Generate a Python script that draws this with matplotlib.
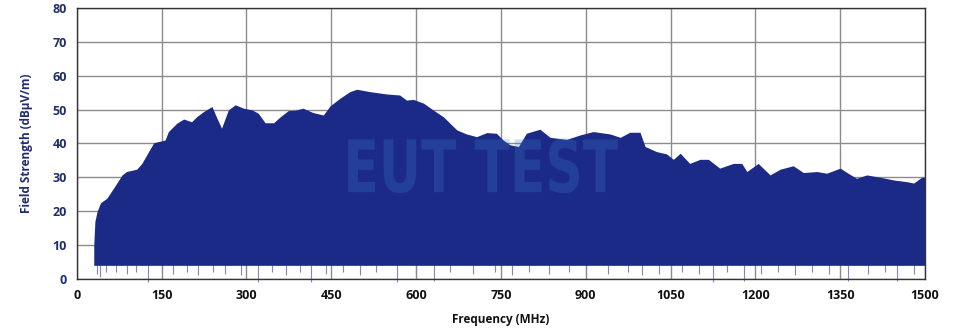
import numpy as np
import matplotlib
matplotlib.use("Agg")
from matplotlib import pyplot as plt
from matplotlib.textpath import TextPath
from matplotlib.patches import PathPatch
from matplotlib.font_manager import FontProperties
from matplotlib.transforms import Affine2D

plt.rcParams['font.family'] = ['Open Sans', 'DejaVu Sans']

# upper envelope of the sweep (MHz, dBuV/m)
freq_hi = [30, 32, 36, 42, 53, 65, 80, 88, 106, 115, 127, 136, 156, 162, 177,
           189, 203, 212, 224, 239, 248, 256, 268, 280, 295, 310, 321, 333,
           348, 360, 374, 386, 400, 418, 436, 448, 465, 483, 495, 518, 548,
           571, 583, 595, 613, 630, 648, 672, 689, 707, 725, 742, 754, 766,
           781, 795, 819, 837, 866, 890, 913, 943, 961, 978, 996, 1005, 1025,
           1043, 1055, 1067, 1084, 1102, 1117, 1137, 1161, 1176, 1185, 1205,
           1226, 1244, 1267, 1285, 1309, 1326, 1350, 1364, 1379, 1397, 1421,
           1445, 1468, 1480, 1494, 1500]
level_hi = [10, 17, 20, 22.5, 23.8, 26.8, 30.7, 31.7, 32.4, 34.1, 37.6, 40.2, 41, 43.5, 46,
            47.2, 46.4, 47.9, 49.4, 50.9, 47.4, 44.5, 49.9, 51.4, 50.4, 49.9, 48.9, 46.1,
            46.1, 47.9, 49.7, 49.8, 50.4, 49.1, 48.4, 51.1, 53.3, 55.3, 56, 55.3, 54.6,
            54.3, 52.8, 53, 51.9, 49.9, 47.9, 44, 42.8, 42, 43.2, 43, 41, 39.6,
            39.1, 43, 44.2, 41.8, 41.2, 42.5, 43.5, 42.8, 41.8, 43.3, 43.3, 39.1, 37.6,
            36.9, 35.3, 37.1, 34.1, 35.3, 35.3, 32.7, 34.1, 34.1, 31.7, 34.1,
            30.7, 32.4, 33.4, 31.4, 31.7, 31.2, 32.7, 31.2, 29.7, 30.7, 30,
            29.2, 28.7, 28.3, 30, 30]
# noise floor of the trace
freq_lo = [30, 1500]
level_lo = [4, 4]

# deepest downward spikes below the floor
spike_f = [35, 41, 52, 70, 88, 105, 126, 150, 170, 195, 215, 240, 262, 290,
           320, 345, 370, 395, 415, 440, 470, 500, 530, 566, 600, 632, 660,
           700, 740, 770, 800, 835, 870, 900, 940, 975, 1000, 1030, 1070,
           1100, 1125, 1150, 1180, 1210, 1240, 1270, 1300, 1330, 1364, 1400,
           1430, 1450, 1480]
spike_lo = [1.5, 0.5, 2, 2, 1.5, 2, -1, 2, 1.5, 2, 1, 2, 1.5, 1,
            -1, 2, 1, 2, -1, 1.5, 2, 1, 2, -1, 1.5, -0.5, 2,
            1.5, 2, 1, 2, 1.5, 2, 1, 1.5, 2, 1, 1.5, 2,
            1.5, -1, 2, -0.5, 1.5, 2, 1, 2, 1.5, -0.5, 1.5,
            2, -0.5, 1.5]

fig = plt.figure(figsize=(9.6, 3.32), dpi=100)
ax = fig.add_axes([0.080, 0.160, 0.8835, 0.816])

navy = '#1b2a86'
f_grid = np.array(freq_hi, dtype=float)
ax.fill_between(freq_hi, np.interp(f_grid, freq_lo, level_lo), level_hi,
                color=navy, lw=0, zorder=3)
ax.vlines(spike_f, spike_lo, 4, color='#8088bb', lw=0.8, zorder=2, clip_on=False)

# watermark, stretched into its box (MHz / dB)
tp = TextPath((0, 0), 'EUT TEST', size=1,
              prop=FontProperties(family='DejaVu Sans', weight='bold'))
ext = tp.get_extents()
x0, x1, y0, y1 = 480, 957, 25.3, 41.5
tr = (Affine2D().translate(-ext.x0, -ext.y0)
      .scale((x1 - x0) / ext.width, (y1 - y0) / ext.height)
      .translate(x0, y0))
ax.add_patch(PathPatch(tr.transform_path(tp), facecolor='#3f7fd0', alpha=0.25,
                       lw=0, zorder=4))

ax.set_xlim(0, 1500)
ax.set_ylim(0, 80)
ax.set_xticks(np.arange(0, 1501, 150))
ax.set_yticks(np.arange(0, 81, 10))
ax.grid(True, color='#8c8c8c', lw=1.0, zorder=1)
ax.set_axisbelow(True)
ax.tick_params(length=0, pad=7)
for lbl in ax.get_yticklabels():
    lbl.set_color('#1f2d6e')
    lbl.set_fontweight('bold')
    lbl.set_fontsize(9)
for lbl in ax.get_xticklabels():
    lbl.set_color('#111111')
    lbl.set_fontweight('bold')
    lbl.set_fontsize(9)
for s in ax.spines.values():
    s.set_color('#333333')
    s.set_linewidth(1.0)
    s.set_zorder(5)

ax.set_xlabel('Frequency (MHz)', fontsize=8.5, fontweight='bold', color='#111111', labelpad=8)
ax.set_ylabel('Field Strength (dB\u00b5V/m)', fontsize=8.5, fontweight='bold',
              color='#1f2d6e', labelpad=14)

fig.savefig('out.png', dpi=100)
